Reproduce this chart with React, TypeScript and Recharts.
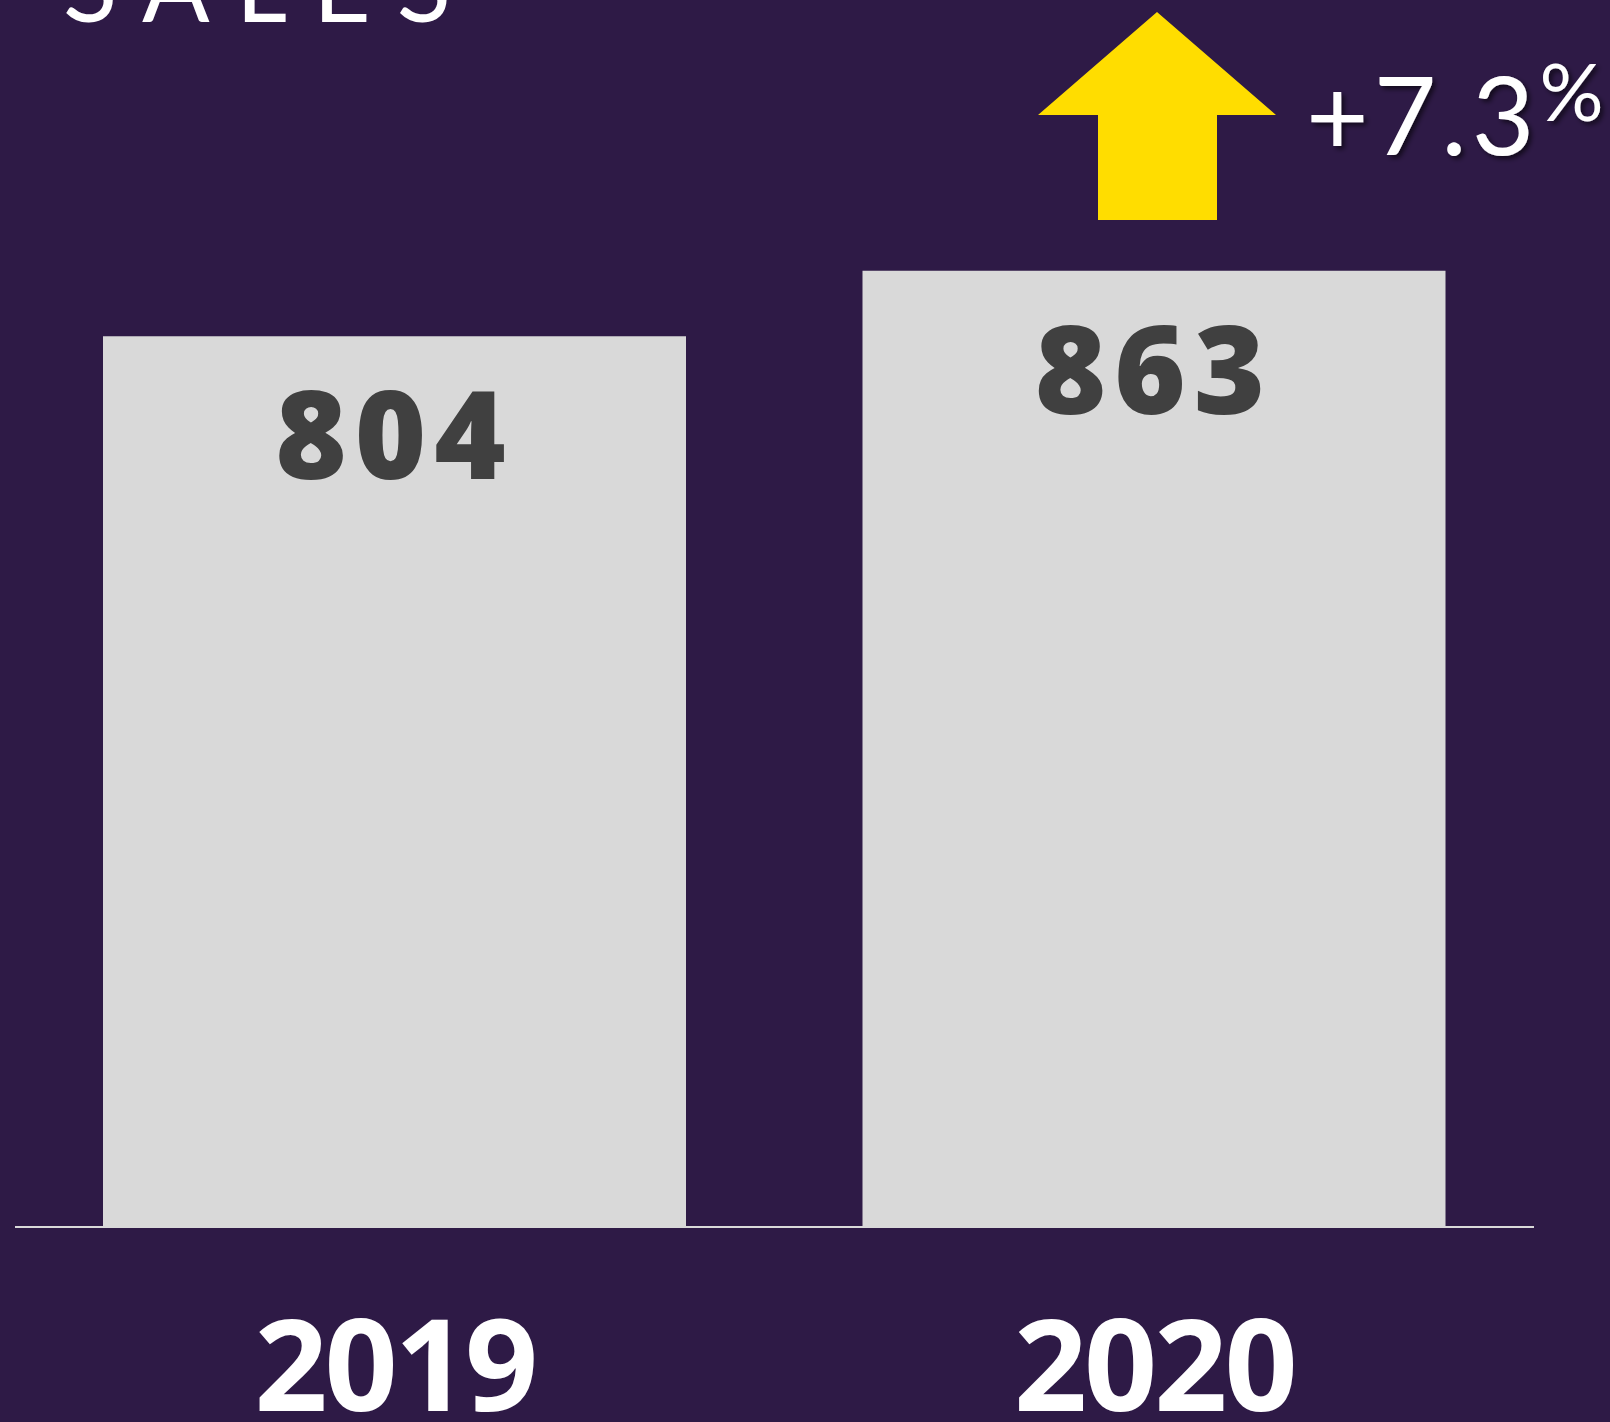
import React from 'react';
import { BarChart, Bar, XAxis, YAxis, LabelList } from 'recharts';

// chart data
const years = ['2019', '2020'];
const sales = [804, 863];
const changeText = '+7.3';
const titleText = 'SALES';

const data = years.map((year, i) => ({ year, sales: sales[i] }));

const BG = '#2E1A46';
const BAR = '#D9D9D9';
const LABEL = '#404040';
const ARROW = '#FFDD00';

const W = 1610;
const H = 1422;

const YearTick = (props: any) => {
    const { x, y, payload } = props;
    return (
        <text
            x={x}
            y={y + 184}
            textAnchor="middle"
            fill="#FFFFFF"
            fontFamily="'Open Sans', sans-serif"
            fontWeight={700}
            fontSize={128}
            letterSpacing={-3}
        >
            {payload.value}
        </text>
    );
};

const ValueLabel = (props: any) => {
    const { x, y, width, value } = props;
    return (
        <text
            x={x + width / 2}
            y={y + 143}
            textAnchor="middle"
            fill={LABEL}
            fontFamily="'Open Sans', sans-serif"
            fontWeight={800}
            fontSize={122}
            letterSpacing={8}
        >
            {value}
        </text>
    );
};

export default function App() {
    return (
        <div style={{ position: 'absolute', left: 0, top: 0, width: W, height: H, background: BG, overflow: 'hidden' }}>
            <BarChart width={W} height={H} data={data} margin={{ top: 119, right: 76, left: 15, bottom: 0 }}>
                <YAxis hide domain={[0, 1000]} />
                <XAxis
                    dataKey="year"
                    height={195}
                    axisLine={{ stroke: BAR, strokeWidth: 2 }}
                    tickLine={false}
                    tickSize={0}
                    tickMargin={0}
                    tick={<YearTick />}
                />
                <Bar dataKey="sales" fill={BAR} barSize={583} isAnimationActive={false}>
                    <LabelList dataKey="sales" content={<ValueLabel />} />
                </Bar>
            </BarChart>

            {/* title + growth annotation */}
            <svg width={W} height={H} style={{ position: 'absolute', left: 0, top: 0, pointerEvents: 'none' }}>
                <defs>
                    <filter id="shadow" x="-10%" y="-10%" width="130%" height="130%">
                        <feDropShadow dx="3" dy="3" stdDeviation="2.5" floodColor="#000000" floodOpacity="0.6" />
                    </filter>
                </defs>
                <text x={63} y={22} fill="#FFFFFF" fontFamily="Lato, sans-serif" fontWeight={400} fontSize={100} letterSpacing={26}>
                    {titleText}
                </text>
                <polygon
                    points="1157,12 1276,115 1217,115 1217,220 1098,220 1098,115 1038,115"
                    fill={ARROW}
                />
                <text x={1306} y={155} fill="#FFFFFF" fontFamily="Lato, sans-serif" fontWeight={400} fontSize={108} letterSpacing={5} filter="url(#shadow)">
                    {changeText}
                    <tspan fontSize={80} dy={-34}>%</tspan>
                </text>
            </svg>
        </div>
    );
}
